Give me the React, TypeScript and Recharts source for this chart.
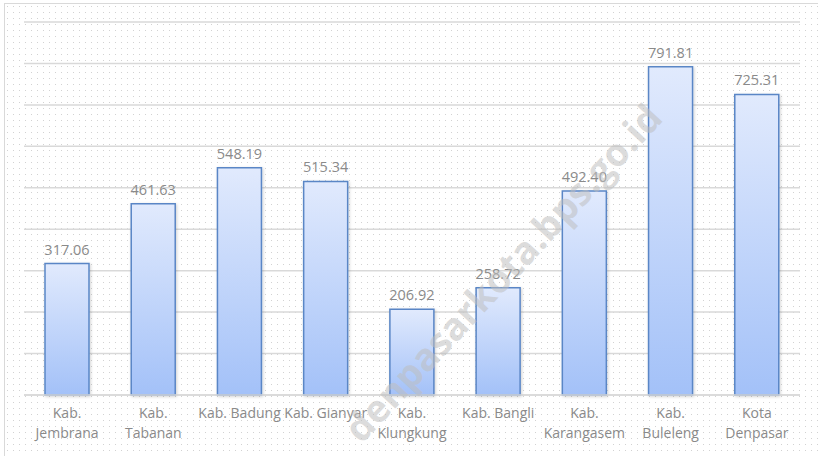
import { BarChart, Bar, XAxis, YAxis, CartesianGrid, LabelList } from "recharts";

// Kabupaten / kota
const categories = [
  "Kab. Jembrana",
  "Kab. Tabanan",
  "Kab. Badung",
  "Kab. Gianyar",
  "Kab. Klungkung",
  "Kab. Bangli",
  "Kab. Karangasem",
  "Kab. Buleleng",
  "Kota Denpasar",
];

// how each tick label is broken into lines
const tickLines = [
  ["Kab.", "Jembrana"],
  ["Kab.", "Tabanan"],
  ["Kab. Badung"],
  ["Kab. Gianyar"],
  ["Kab.", "Klungkung"],
  ["Kab. Bangli"],
  ["Kab.", "Karangasem"],
  ["Kab.", "Buleleng"],
  ["Kota", "Denpasar"],
];

const values = [317.06, 461.63, 548.19, 515.34, 206.92, 258.72, 492.4, 791.81, 725.31];

const yTicks = [0, 100, 200, 300, 400, 500, 600, 700, 800, 900];

const data = categories.map((name, i) => ({ name, value: values[i] }));

const FONT = "'Open Sans', 'Noto Sans', sans-serif";

const dotTile =
  "url(\"data:image/svg+xml;utf8,<svg xmlns='http://www.w3.org/2000/svg' width='6' height='6'><rect x='2' y='2' width='1' height='1' fill='%23d2d2d2'/></svg>\")";

function CategoryTick(props: any) {
  const { x, y, index } = props;
  const lines = tickLines[index] || [];
  return (
    <g>
      {lines.map((l: string, k: number) => (
        <text
          key={k}
          x={x}
          y={y + 15 + k * 20}
          textAnchor="middle"
          fill="#8a8a8a"
          fontSize={14}
          fontFamily={FONT}
        >
          {l}
        </text>
      ))}
    </g>
  );
}

export default function App() {
  return (
    <div
      style={{
        position: "absolute",
        left: 0,
        top: 0,
        width: 818,
        height: 456,
        overflow: "hidden",
        background: "#fff",
      }}
    >
      {/* fondo punteado con marco */}
      <div
        style={{
          position: "absolute",
          left: 4,
          top: 3,
          width: 830,
          height: 470,
          border: "1.5px solid #d9d9d9",
          backgroundImage: dotTile,
          backgroundSize: "6px 6px",
        }}
      />
      <div style={{ position: "absolute", left: 0, top: 0 }}>
        <BarChart
          width={818}
          height={456}
          data={data}
          margin={{ top: 22, right: 18, left: 24, bottom: 11 }}
          barCategoryGap={21}
        >
          <defs>
            <linearGradient id="barFill" x1="0" y1="0" x2="0" y2="1">
              <stop offset="0%" stopColor="#e1eafd" />
              <stop offset="100%" stopColor="#a3c1f8" />
            </linearGradient>
            <filter id="barShadow" x="-20%" y="-20%" width="140%" height="140%">
              <feDropShadow dx="1" dy="1" stdDeviation="1.5" floodColor="#000" floodOpacity="0.18" />
            </filter>
          </defs>
          <CartesianGrid vertical={false} stroke="#d9d9d9" strokeWidth={1.5} />
          <YAxis hide domain={[0, 900]} ticks={yTicks} />
          <XAxis
            dataKey="name"
            height={50}
            axisLine={{ stroke: "#d9d9d9", strokeWidth: 1.5 }}
            tickLine={false}
            interval={0}
            tick={<CategoryTick />}
          />
          <Bar
            dataKey="value"
            fill="url(#barFill)"
            stroke="#5a86c6"
            strokeWidth={1.5}
            filter="url(#barShadow)"
            isAnimationActive={false}
          >
            <LabelList
              dataKey="value"
              position="top"
              offset={9}
              fill="#8a8a8a"
              fontSize={14.5}
              fontFamily={FONT}
              formatter={(v: any) => Number(v).toFixed(2)}
            />
          </Bar>
        </BarChart>
      </div>
      {/* marca de agua */}
      <div
        style={{
          position: "absolute",
          left: 502,
          top: 272,
          transform: "translate(-50%, -50%) rotate(-47deg)",
          fontFamily: FONT,
          fontWeight: 700,
          fontSize: 38,
          color: "rgba(190,190,190,0.55)",
          whiteSpace: "nowrap",
          pointerEvents: "none",
        }}
      >
        denpasarkota.bps.go.id
      </div>
    </div>
  );
}
